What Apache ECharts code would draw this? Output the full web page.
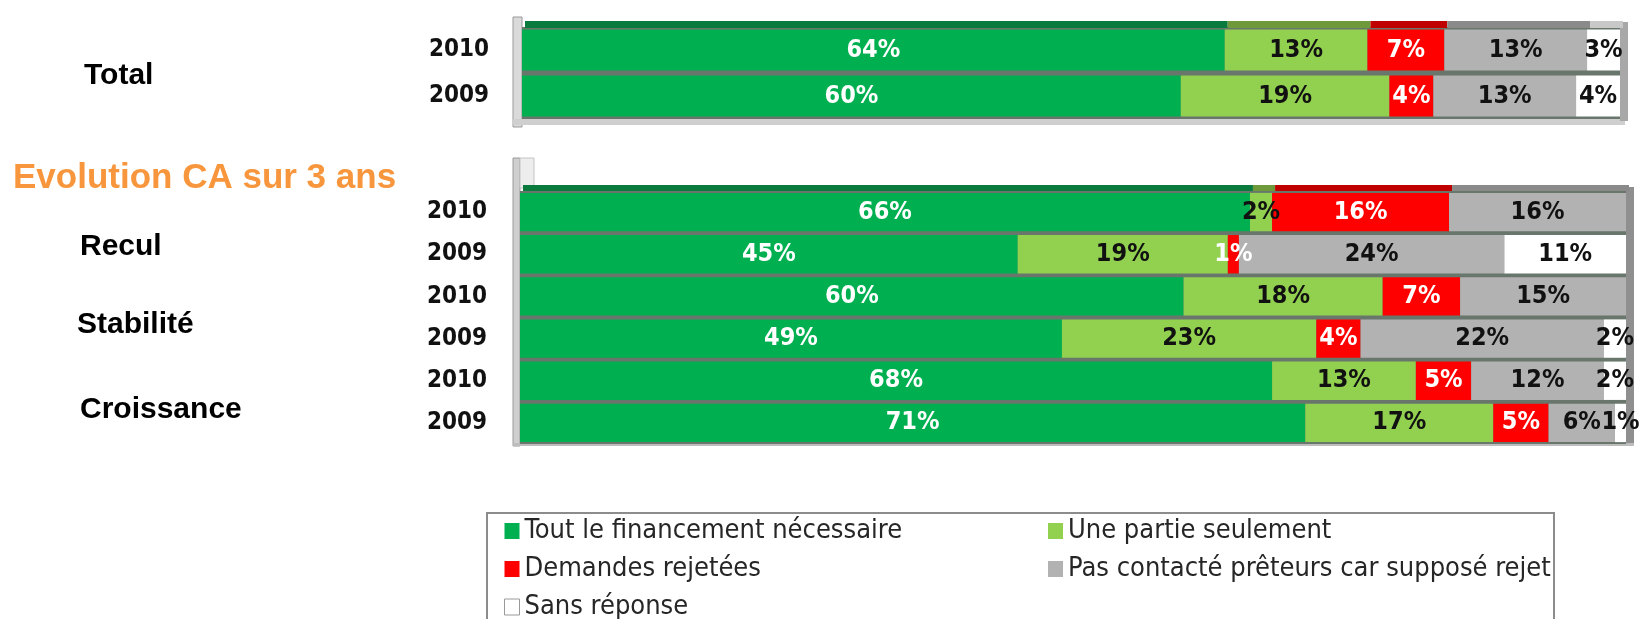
<!DOCTYPE html>
<html>
<head>
<meta charset="utf-8">
<script src="https://cdn.jsdelivr.net/npm/echarts@6/dist/echarts.min.js"></script>
<style>
  html, body { margin: 0; padding: 0; background: #fff; }
  #chart { width: 1640px; height: 619px; }
</style>
</head>
<body>
<div id="chart"></div>
<script>
// categories
const totalYears = ['2010', '2009']
const groupYears = ['2010', '2009', '2010', '2009', '2010', '2009']
const segmentNames = [
    'Tout le financement nécessaire',
    'Une partie seulement',
    'Demandes rejetées',
    'Pas contacté prêteurs car supposé rejet',
    'Sans réponse'
]

// Total (2010, 2009)
const totalTout = [64, 60]
const totalPartie = [13, 19]
const totalRejet = [7, 4]
const totalPasContact = [13, 13]
const totalSansRep = [3, 4]

// Evolution CA : Recul 2010/2009, Stabilité 2010/2009, Croissance 2010/2009
const groupTout = [66, 45, 60, 49, 68, 71]
const groupPartie = [2, 19, 18, 23, 13, 17]
const groupRejet = [16, 1, 7, 4, 5, 5]
const groupPasContact = [16, 24, 15, 22, 12, 6]
const groupSansRep = [0, 11, 0, 2, 2, 1]

const segColors = ['#00b050', '#92d050', '#ff0000', '#b2b2b2', '#ffffff']
const segTopColors = ['#0b7a3e', '#6f9a3c', '#c00000', '#8a8a8a', '#c8c8c8']
const labelColors = ['#ffffff', '#111111', '#ffffff', '#111111', '#111111']

const narrow = "'Liberation Sans Narrow', 'DejaVu Sans Condensed', 'Liberation Sans', sans-serif"
const bold = "'Liberation Sans', Arial, sans-serif"

const totalData = [totalTout, totalPartie, totalRejet, totalPasContact, totalSansRep]
const groupData = [groupTout, groupPartie, groupRejet, groupPasContact, groupSansRep]

const barLabel = i => ({
    show: true,
    position: 'inside',
    color: labelColors[i],
    fontFamily: narrow,
    fontWeight: 'bold',
    fontSize: 25,
    formatter: p => (p.value ? p.value + '%' : '')
})

const series = []
segmentNames.forEach((name, i) => {
    series.push({
        name, type: 'bar', stack: 'total', xAxisIndex: 0, yAxisIndex: 0,
        barCategoryGap: '11%', data: totalData[i],
        itemStyle: { color: segColors[i] }, label: barLabel(i)
    })
    series.push({
        name, type: 'bar', stack: 'group', xAxisIndex: 1, yAxisIndex: 1,
        barCategoryGap: '9%', data: groupData[i],
        itemStyle: { color: segColors[i] }, label: barLabel(i)
    })
    // 3D top face of the first row
    series.push({
        name, type: 'bar', stack: 'totalTop', xAxisIndex: 2, yAxisIndex: 2,
        barCategoryGap: 0, data: [totalData[i][0]], silent: true,
        itemStyle: { color: segTopColors[i] }
    })
    series.push({
        name, type: 'bar', stack: 'groupTop', xAxisIndex: 3, yAxisIndex: 3,
        barCategoryGap: 0, data: [groupData[i][0]], silent: true,
        itemStyle: { color: segTopColors[i] }
    })
})

const valueAxis = idx => ({ type: 'value', gridIndex: idx, min: 0, max: 100, show: false })
const catAxis = (idx, data, show) => ({
    type: 'category', gridIndex: idx, data, inverse: true, show,
    axisLine: { show: false }, axisTick: { show: false },
    axisLabel: {
        margin: 33, color: '#111', fontFamily: narrow, fontWeight: 'bold', fontSize: 24
    }
})

const legendText = { fontFamily: narrow, fontSize: 27, color: '#262626', lineHeight: 32 }

const groupLabel = (text, x, y, size, color) => ({
    type: 'text', x, y, silent: true,
    style: { text, fill: color || '#000', font: `bold ${size || 30}px ${bold}`, verticalAlign: 'middle' }
})

const chart = echarts.init(document.getElementById('chart'))
chart.setOption({
    animation: false,
    grid: [
        { left: 522, right: 20, top: 27, height: 92, show: true, backgroundColor: '#68766c', borderWidth: 0 },
        { left: 520, right: 14, top: 191, height: 253, show: true, backgroundColor: '#68766c', borderWidth: 0 },
        { left: 525, right: 17, top: 21, height: 7 },
        { left: 523, right: 11, top: 185, height: 6 }
    ],
    xAxis: [valueAxis(0), valueAxis(1), valueAxis(2), valueAxis(3)],
    yAxis: [
        catAxis(0, totalYears, true),
        catAxis(1, groupYears, true),
        catAxis(2, ['2010'], false),
        catAxis(3, ['2010'], false)
    ],
    legend: [
        {
            orient: 'vertical', left: 504, top: 515, height: 200, padding: 0, itemGap: 6,
            itemWidth: 15, itemHeight: 16, icon: 'rect', textStyle: legendText,
            data: [segmentNames[0], segmentNames[2],
                { name: segmentNames[4], itemStyle: { borderColor: '#999', borderWidth: 1 } }]
        },
        {
            orient: 'vertical', left: 1048, top: 515, height: 200, padding: 0, itemGap: 6,
            itemWidth: 15, itemHeight: 16, icon: 'rect', textStyle: legendText,
            data: [segmentNames[1], segmentNames[3]]
        }
    ],
    graphic: [
        // top chart frame
        { type: 'rect', z: -1, shape: { x: 513, y: 17, width: 9, height: 110 }, style: { fill: '#dadada', stroke: '#9a9a9a', lineWidth: 1 } },
        { type: 'rect', z: -1, shape: { x: 513, y: 119, width: 1112, height: 6 }, style: { fill: '#cfcfcf' } },
        { type: 'rect', z: -1, shape: { x: 1620, y: 22, width: 8, height: 99 }, style: { fill: '#a8a8a8' } },
        // bottom chart frame
        { type: 'rect', z: -1, shape: { x: 513, y: 158, width: 7, height: 288 }, style: { fill: '#cfcfcf', stroke: '#9a9a9a', lineWidth: 1 } },
        { type: 'rect', z: -1, shape: { x: 520, y: 158, width: 14, height: 30 }, style: { fill: '#ededed', stroke: '#c4c4c4', lineWidth: 1 } },
        { type: 'rect', z: -1, shape: { x: 1626, y: 187, width: 8, height: 257 }, style: { fill: '#8f8f8f' } },
        { type: 'rect', z: -1, shape: { x: 513, y: 443, width: 1121, height: 3 }, style: { fill: '#bdbdbd' } },
        // legend box
        { type: 'rect', z: -1, shape: { x: 487, y: 513, width: 1067, height: 120 }, style: { fill: 'none', stroke: '#8c8c8c', lineWidth: 2 } },
        // row group labels
        groupLabel('Total', 84, 76),
        groupLabel('Evolution CA sur 3 ans', 13, 178, 35, '#f7963c'),
        groupLabel('Recul', 80, 247),
        groupLabel('Stabilité', 77, 325),
        groupLabel('Croissance', 80, 410)
    ],
    series
})
</script>
</body>
</html>
